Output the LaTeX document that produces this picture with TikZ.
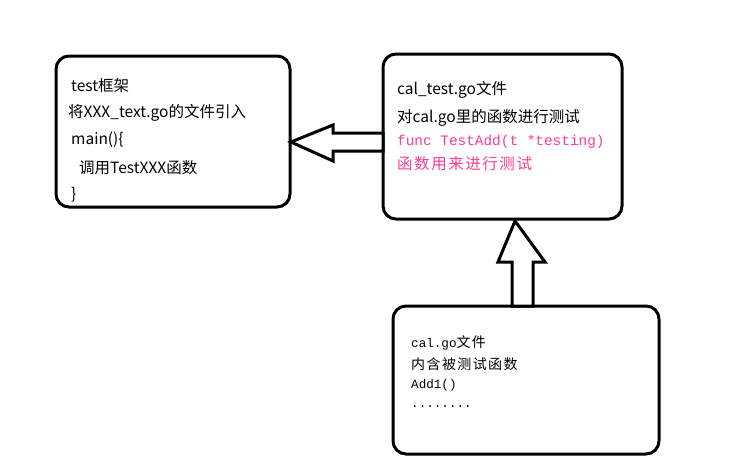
\documentclass[tikz,border=0pt]{standalone}
\usepackage{fontspec}
\setmainfont{Noto Sans CJK SC}
\newfontfamily\cjk{Noto Sans CJK SC}
\newfontfamily\cjksp[LetterSpace=10]{Noto Sans CJK SC}
\newfontfamily\monolat{Liberation Mono}
\definecolor{pinkred}{RGB}{255,60,150}
\newcommand{\redcjk}{\fontsize{15.5}{17}\cjksp}
\newcommand{\smallcjk}{\fontsize{14}{16}\cjksp}
\begin{document}
\begin{tikzpicture}[x=1pt,y=-1pt,
  box/.style={draw=black,line width=3pt,rounded corners=13pt},
  bigarrow/.style={draw=black,line width=3pt,fill=white,line join=miter},
  txt/.style={anchor=west,inner sep=0pt,font=\fontsize{15.5}{17}\selectfont},
  mtxt/.style={anchor=west,inner sep=0pt,font=\fontsize{14.4}{16}\selectfont},
  stxt/.style={anchor=west,inner sep=0pt,font=\fontsize{12.6}{14}\selectfont}]
\useasboundingbox (0,0) rectangle (740,466);
\fill[white] (0,0) rectangle (740,466);
% boxes
\draw[box] (56,56) rectangle (290,207);
\draw[box] (383,54) rectangle (622,219);
\draw[box] (393,306) rectangle (659,454);
% left arrow
\draw[bigarrow] (291,142) -- (333,125) -- (333,133) -- (383,133) -- (383,151) -- (333,151) -- (333,161) -- cycle;
% up arrow
\draw[bigarrow] (515,221) -- (545,262) -- (533,262) -- (533,306) -- (512,306) -- (512,262) -- (498,262) -- cycle;
% box 1 text
\node[txt] (a1) at (71,86) {test框架};
\node[txt] (a2) at (68,113) {将XXX\_text.go的文件引入};
\node[txt] (a3) at (71,140) {main()\{};
\node[txt] (a4) at (79,168) {调用TestXXX函数};
\node[txt] (a5) at (71,195) {\}};
% box 2 text
\node[txt] (b1) at (397,90) {cal\_test.go文件};
\node[txt] (b2) at (397,118) {对cal.go里的函数进行测试};
\node[mtxt,text=pinkred] (b3) at (397,142) {\monolat func TestAdd(t *testing)};
\node[mtxt,text=pinkred] (b4) at (397,164) {\redcjk 函数用来进行测试};
% box 3 text
\node[stxt] (c1) at (411,343) {{\monolat cal.go}{\smallcjk 文件}};
\node[stxt] (c2) at (411,364) {\smallcjk 内含被测试函数};
\node[stxt] (c3) at (411,385) {\monolat Add1()};
\node[stxt] (c4) at (411,407) {\monolat ........};
\end{tikzpicture}
\end{document}
